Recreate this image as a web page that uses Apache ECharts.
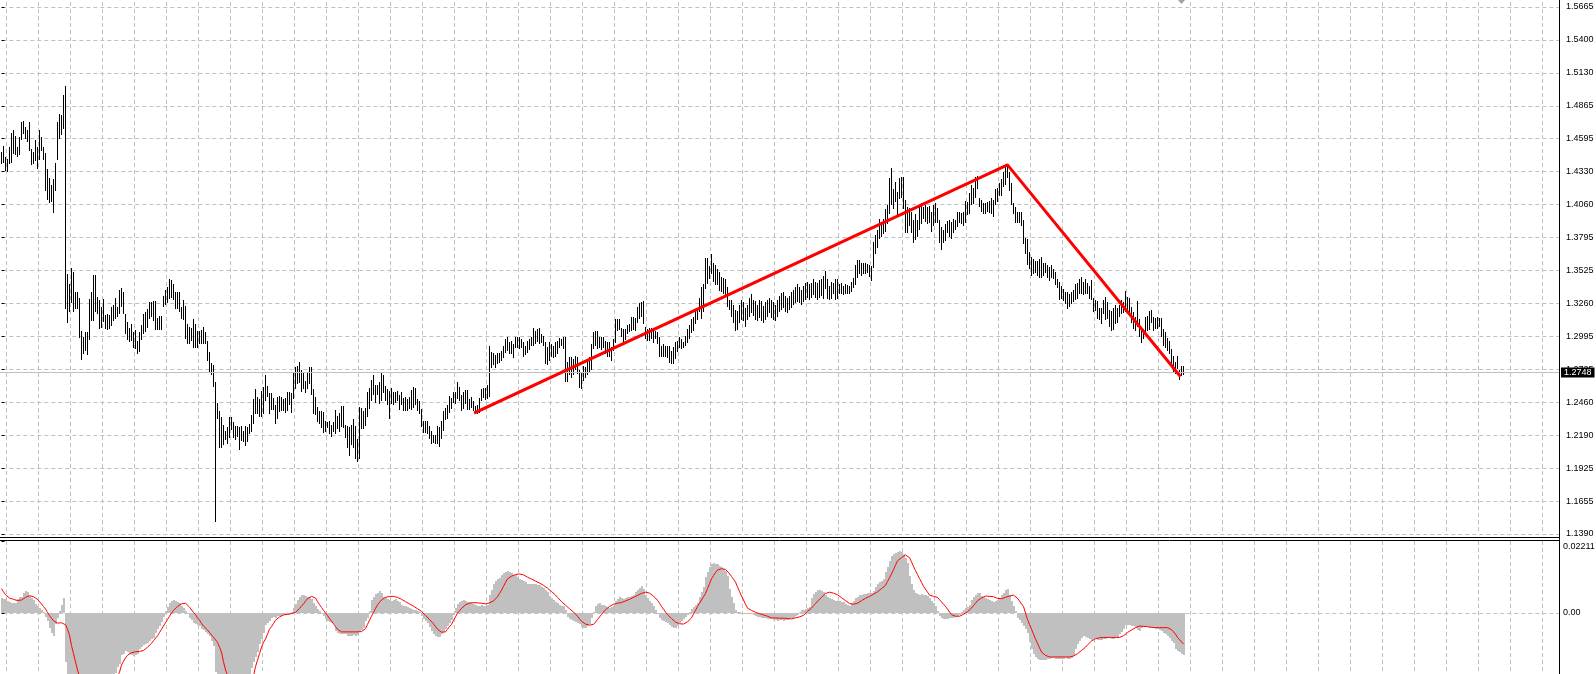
<!DOCTYPE html>
<html>
<head>
<meta charset="utf-8">
<script src="https://cdn.jsdelivr.net/npm/echarts@6/dist/echarts.min.js"></script>
<style>
  html, body { margin: 0; padding: 0; background: #fff; }
  #chart { width: 1596px; height: 674px; }
</style>
</head>
<body>
<div id="chart"></div>
<script>
// bar highs, one per bar (oldest first)
var highs = [
1.4481,1.4537,1.4448,1.4424,1.4529,1.4635,1.4667,1.4618,1.4529,1.4610,
1.4732,1.4740,1.4691,1.4667,1.4732,1.4513,1.4481,1.4586,1.4529,1.4667,
1.4610,1.4529,1.4473,1.4343,1.4270,1.4221,1.4262,1.4392,1.4724,1.4789,
1.4781,1.4951,1.5024,1.3491,1.3410,1.3540,1.3508,1.3353,1.3345,1.3304,
1.3029,1.2980,1.3021,1.3021,1.3296,1.3345,1.3483,1.3483,1.3312,1.3288,
1.3231,1.3296,1.3166,1.3174,1.3166,1.3231,1.3247,1.3304,1.3231,1.3369,
1.3378,1.3345,1.3174,1.3102,1.3053,1.3093,1.3021,1.3037,1.2948,1.3021,
1.3085,1.3174,1.3183,1.3215,1.3264,1.3264,1.3280,1.3280,1.3142,1.3158,
1.3158,1.3320,1.3369,1.3386,1.3451,1.3443,1.3410,1.3345,1.3345,1.3345,
1.3231,1.3288,1.3239,1.3093,1.3069,1.3053,1.3134,1.3093,1.3029,1.3029,
1.3037,1.3069,1.3021,1.2948,1.2859,1.2770,1.2753,1.2623,1.2445,1.2380,
1.2331,1.2274,1.2218,1.2250,1.2331,1.2331,1.2291,1.2258,1.2258,1.2250,
1.2258,1.2218,1.2266,1.2250,1.2282,1.2355,1.2485,1.2566,1.2501,1.2477,
1.2550,1.2582,1.2672,1.2590,1.2526,1.2526,1.2493,1.2436,1.2501,1.2509,
1.2501,1.2477,1.2493,1.2534,1.2534,1.2526,1.2696,1.2737,1.2745,1.2778,
1.2720,1.2704,1.2631,1.2704,1.2737,1.2737,1.2566,1.2501,1.2420,1.2380,
1.2380,1.2372,1.2299,1.2291,1.2299,1.2274,1.2291,1.2388,1.2347,1.2364,
1.2428,1.2428,1.2274,1.2266,1.2250,1.2274,1.2315,1.2258,1.2153,1.2420,
1.2412,1.2380,1.2412,1.2534,1.2574,1.2639,1.2672,1.2598,1.2598,1.2615,
1.2704,1.2672,1.2590,1.2566,1.2542,1.2574,1.2534,1.2534,1.2542,1.2517,
1.2534,1.2493,1.2501,1.2485,1.2501,1.2558,1.2582,1.2574,1.2477,1.2461,
1.2396,1.2299,1.2299,1.2299,1.2258,1.2218,1.2193,1.2193,1.2258,1.2250,
1.2299,1.2380,1.2412,1.2436,1.2509,1.2493,1.2534,1.2534,1.2615,1.2582,
1.2517,1.2534,1.2558,1.2558,1.2485,1.2501,1.2461,1.2428,1.2436,1.2493,
1.2566,1.2574,1.2574,1.2598,1.2907,1.2859,1.2851,1.2834,1.2851,1.2851,
1.2867,1.2915,1.2964,1.2980,1.2940,1.2948,1.2924,1.2988,1.2988,1.2980,
1.2964,1.2940,1.2907,1.2948,1.2964,1.2988,1.3053,1.3029,1.3045,1.3053,
1.3012,1.2996,1.2940,1.2899,1.2940,1.2924,1.2915,1.2940,1.2948,1.2972,
1.2964,1.2980,1.2980,1.2778,1.2818,1.2818,1.2802,1.2826,1.2818,1.2720,
1.2696,1.2745,1.2737,1.2794,1.2818,1.2924,1.3021,1.3029,1.3029,1.2980,
1.2980,1.2988,1.2948,1.2940,1.2940,1.2899,1.2964,1.3126,1.3126,1.3126,
1.3061,1.3045,1.3045,1.3085,1.3093,1.3150,1.3150,1.3142,1.3231,1.3256,
1.3264,1.3272,1.3069,1.3045,1.3053,1.3061,1.3029,1.3029,1.3021,1.2988,
1.2915,1.2924,1.2915,1.2915,1.2907,1.2867,1.2899,1.2940,1.2948,1.2988,
1.2964,1.2940,1.2996,1.3045,1.3085,1.3126,1.3150,1.3191,1.3223,1.3304,
1.3386,1.3410,1.3621,1.3621,1.3556,1.3661,1.3588,1.3572,1.3532,1.3508,
1.3467,1.3459,1.3451,1.3386,1.3288,1.3288,1.3247,1.3207,1.3191,1.3247,
1.3288,1.3264,1.3223,1.3247,1.3304,1.3329,1.3288,1.3272,1.3247,1.3288,
1.3272,1.3239,1.3264,1.3288,1.3304,1.3288,1.3264,1.3247,1.3288,1.3320,
1.3337,1.3353,1.3320,1.3304,1.3320,1.3345,1.3369,1.3386,1.3410,1.3386,
1.3369,1.3394,1.3418,1.3434,1.3410,1.3426,1.3451,1.3434,1.3418,1.3443,
1.3451,1.3475,1.3516,1.3451,1.3394,1.3434,1.3426,1.3451,1.3451,1.3410,
1.3418,1.3394,1.3410,1.3402,1.3394,1.3434,1.3459,1.3564,1.3605,1.3605,
1.3588,1.3588,1.3588,1.3580,1.3572,1.3556,1.3751,1.3815,1.3848,1.3945,
1.3913,1.3945,1.4026,1.4058,1.4270,1.4351,1.4181,1.4245,1.4164,1.4270,
1.4278,1.4278,1.4099,1.4042,1.4034,1.4002,1.3937,1.3978,1.3937,1.4058,
1.4075,1.4042,1.4058,1.4042,1.4050,1.4002,1.4058,1.4075,1.4034,1.3937,
1.3880,1.3856,1.3897,1.3929,1.3937,1.3913,1.3945,1.3937,1.3994,1.3994,
1.3986,1.3994,1.4091,1.4083,1.4156,1.4221,1.4189,1.4278,1.4286,1.4108,
1.4099,1.4075,1.4075,1.4083,1.4091,1.4108,1.4099,1.4181,1.4189,1.4237,
1.4262,1.4319,1.4359,1.4384,1.4319,1.4237,1.4075,1.4042,1.3994,1.4002,
1.3994,1.3937,1.3791,1.3775,1.3670,1.3637,1.3613,1.3597,1.3597,1.3613,
1.3629,1.3588,1.3588,1.3572,1.3548,1.3572,1.3532,1.3508,1.3451,1.3434,
1.3394,1.3377,1.3345,1.3345,1.3329,1.3353,1.3369,1.3410,1.3426,1.3451,
1.3467,1.3434,1.3451,1.3426,1.3394,1.3443,1.3304,1.3288,1.3272,1.3223,
1.3223,1.3288,1.3312,1.3264,1.3207,1.3191,1.3223,1.3247,1.3223,1.3247,
1.3288,1.3264,1.3361,1.3312,1.3304,1.3231,1.3183,1.3150,1.3272,1.3126,
1.3045,1.3045,1.3150,1.3158,1.3191,1.3207,1.3150,1.3142,1.3150,1.3142,
1.3142,1.3045,1.3021,1.2972,1.2948,1.2883,1.2826,1.2778,1.2826,1.2720,
1.2745,1.2750
];

// bar lows, one per bar
var lows = [
1.4400,1.4408,1.4343,1.4335,1.4400,1.4408,1.4481,1.4473,1.4464,1.4473,
1.4602,1.4643,1.4610,1.4586,1.4505,1.4392,1.4400,1.4424,1.4367,1.4432,
1.4505,1.4432,1.4181,1.4108,1.4091,1.4099,1.4010,1.4181,1.4432,1.4610,
1.4635,1.4691,1.3231,1.3110,1.3207,1.3280,1.3207,1.3231,1.3231,1.2996,
1.2810,1.2859,1.2883,1.2851,1.2972,1.3126,1.3134,1.3199,1.3183,1.3069,
1.3077,1.3118,1.3069,1.3053,1.3069,1.3093,1.3126,1.3150,1.3166,1.3183,
1.3247,1.3183,1.3021,1.2972,1.2956,1.2964,1.2907,1.2899,1.2859,1.2875,
1.2972,1.3021,1.3037,1.3077,1.3150,1.3166,1.3126,1.3053,1.3061,1.3053,
1.3061,1.3247,1.3256,1.3280,1.3312,1.3320,1.3304,1.3231,1.3231,1.3207,
1.3150,1.3142,1.2988,1.2940,1.2940,1.2964,1.2907,1.2907,1.2907,1.2940,
1.2940,1.2940,1.2940,1.2802,1.2720,1.2688,1.2598,1.1496,1.2339,1.2096,
1.2096,1.2121,1.2161,1.2129,1.2177,1.2242,1.2177,1.2161,1.2185,1.2080,
1.2153,1.2145,1.2112,1.2145,1.2210,1.2226,1.2291,1.2372,1.2372,1.2355,
1.2355,1.2372,1.2477,1.2517,1.2372,1.2404,1.2404,1.2291,1.2331,1.2388,
1.2396,1.2396,1.2380,1.2396,1.2445,1.2380,1.2501,1.2582,1.2623,1.2631,
1.2558,1.2582,1.2542,1.2582,1.2615,1.2526,1.2372,1.2364,1.2307,1.2291,
1.2266,1.2218,1.2226,1.2258,1.2210,1.2193,1.2226,1.2210,1.2250,1.2226,
1.2274,1.2258,1.2177,1.2096,1.2031,1.2121,1.2096,1.2014,1.1990,1.2014,
1.2250,1.2250,1.2282,1.2355,1.2420,1.2485,1.2526,1.2461,1.2526,1.2453,
1.2477,1.2550,1.2477,1.2445,1.2339,1.2453,1.2445,1.2461,1.2477,1.2412,
1.2445,1.2396,1.2396,1.2396,1.2420,1.2404,1.2428,1.2445,1.2396,1.2372,
1.2274,1.2218,1.2218,1.2210,1.2169,1.2129,1.2137,1.2129,1.2129,1.2104,
1.2169,1.2234,1.2323,1.2331,1.2380,1.2420,1.2461,1.2453,1.2501,1.2477,
1.2396,1.2420,1.2453,1.2412,1.2412,1.2428,1.2396,1.2372,1.2372,1.2380,
1.2477,1.2509,1.2493,1.2501,1.2517,1.2745,1.2770,1.2745,1.2778,1.2786,
1.2802,1.2826,1.2867,1.2883,1.2859,1.2859,1.2826,1.2907,1.2915,1.2899,
1.2907,1.2842,1.2851,1.2867,1.2891,1.2924,1.2924,1.2940,1.2956,1.2940,
1.2948,1.2924,1.2778,1.2770,1.2802,1.2834,1.2826,1.2842,1.2859,1.2907,
1.2924,1.2899,1.2639,1.2639,1.2696,1.2664,1.2688,1.2729,1.2704,1.2590,
1.2582,1.2647,1.2664,1.2696,1.2712,1.2729,1.2899,1.2924,1.2899,1.2907,
1.2891,1.2907,1.2859,1.2842,1.2834,1.2802,1.2883,1.2948,1.3045,1.3061,
1.3004,1.2948,1.2972,1.3021,1.3037,1.3045,1.3061,1.3045,1.3110,1.3150,
1.3166,1.3102,1.2988,1.2964,1.2964,1.2988,1.2948,1.2980,1.2940,1.2842,
1.2834,1.2834,1.2842,1.2826,1.2786,1.2778,1.2778,1.2818,1.2875,1.2907,
1.2899,1.2907,1.2924,1.2948,1.2988,1.3029,1.3045,1.3102,1.3142,1.3207,
1.3150,1.3207,1.3386,1.3434,1.3467,1.3508,1.3443,1.3426,1.3418,1.3377,
1.3369,1.3345,1.3329,1.3247,1.3223,1.3166,1.3110,1.3045,1.3061,1.3110,
1.3142,1.3126,1.3085,1.3142,1.3166,1.3191,1.3174,1.3142,1.3126,1.3158,
1.3126,1.3110,1.3142,1.3166,1.3191,1.3158,1.3142,1.3126,1.3166,1.3207,
1.3223,1.3239,1.3207,1.3191,1.3223,1.3239,1.3256,1.3272,1.3288,1.3272,
1.3256,1.3288,1.3304,1.3320,1.3304,1.3320,1.3337,1.3320,1.3304,1.3320,
1.3329,1.3312,1.3386,1.3312,1.3304,1.3312,1.3345,1.3304,1.3312,1.3345,
1.3353,1.3337,1.3345,1.3345,1.3353,1.3369,1.3394,1.3426,1.3475,1.3508,
1.3491,1.3508,1.3508,1.3516,1.3483,1.3451,1.3556,1.3670,1.3726,1.3799,
1.3815,1.3832,1.3856,1.3913,1.4002,1.4075,1.4042,1.4099,1.3978,1.4116,
1.4124,1.4042,1.3840,1.3840,1.3897,1.3840,1.3759,1.3791,1.3815,1.3872,
1.3913,1.3961,1.3937,1.3913,1.3921,1.3856,1.3897,1.3921,1.3921,1.3759,
1.3710,1.3759,1.3775,1.3840,1.3815,1.3799,1.3840,1.3872,1.3889,1.3921,
1.3913,1.3897,1.3921,1.3986,1.3994,1.4075,1.4083,1.4124,1.4197,1.4058,
1.4018,1.4002,1.4002,1.4018,1.4010,1.4002,1.3970,1.4075,1.4099,1.4140,
1.4148,1.4221,1.4237,1.4286,1.4181,1.4075,1.3994,1.3921,1.3921,1.3921,
1.3897,1.3751,1.3670,1.3588,1.3548,1.3491,1.3508,1.3516,1.3491,1.3475,
1.3475,1.3491,1.3516,1.3475,1.3451,1.3475,1.3467,1.3426,1.3394,1.3304,
1.3312,1.3296,1.3264,1.3231,1.3247,1.3264,1.3288,1.3304,1.3312,1.3345,
1.3345,1.3337,1.3353,1.3345,1.3312,1.3304,1.3207,1.3215,1.3150,1.3142,
1.3102,1.3183,1.3142,1.3150,1.3085,1.3045,1.3061,1.3102,1.3110,1.3166,
1.3183,1.3191,1.3207,1.3191,1.3183,1.3110,1.3069,1.3045,1.3085,1.3004,
1.2948,1.2980,1.3021,1.3045,1.3061,1.3110,1.3045,1.3069,1.3069,1.3085,
1.3004,1.2924,1.2907,1.2883,1.2859,1.2761,1.2720,1.2704,1.2737,1.2655,
1.2680,1.2696
];

// MACD main (histogram), one per bar
var macdMain = [
.0045,.0044,.0042,.0036,.0035,.0032,.0030,.0030,.0042,.0048,
.0050,.0062,.0068,.0064,.0052,.0045,.0040,.0028,.0022,.0016,
.0010,.0004,-.0012,-.0025,-.0045,-.0062,-.0070,-.0035,-.0015,.0005,
.0025,.0045,-.0150,-.0200,-.0250,-.0290,-.0320,-.0340,-.0350,-.0370,
-.0390,-.0400,-.0400,-.0395,-.0370,-.0350,-.0330,-.0310,-.0290,-.0280,
-.0265,-.0250,-.0240,-.0225,-.0215,-.0205,-.0195,-.0185,-.0165,-.0158,
-.0130,-.0125,-.0118,-.0120,-.0125,-.0130,-.0132,-.0128,-.0125,-.0112,
-.0105,-.0098,-.0095,-.0092,-.0085,-.0080,-.0076,-.0060,-.0050,-.0040,
-.0028,-.0012,.0005,.0018,.0030,.0038,.0040,.0038,.0034,.0030,
.0022,.0014,.0005,-.0002,-.0015,-.0022,-.0030,-.0034,-.0038,-.0040,
-.0048,-.0052,-.0058,-.0065,-.0072,-.0085,-.0100,-.0180,-.0220,-.0260,
-.0280,-.0290,-.0295,-.0295,-.0290,-.0280,-.0270,-.0260,-.0250,-.0240,
-.0230,-.0220,-.0210,-.0200,-.0190,-.0170,-.0150,-.0135,-.0120,-.0095,
-.0080,-.0060,-.0038,-.0030,-.0025,-.0015,-.0012,-.0014,-.0010,-.0008,
-.0008,-.0007,-.0006,-.0005,-.0004,.0002,.0015,.0028,.0040,.0050,
.0055,.0055,.0052,.0050,.0048,.0042,.0030,.0022,.0012,.0005,
-.0002,-.0010,-.0018,-.0024,-.0028,-.0032,-.0035,-.0055,-.0060,-.0065,
-.0066,-.0065,-.0066,-.0070,-.0072,-.0070,-.0068,-.0070,-.0068,-.0058,
-.0052,-.0045,-.0025,-.0015,.0005,.0040,.0050,.0058,.0062,.0068,
.0060,.0050,.0045,.0042,.0040,.0038,.0040,.0042,.0038,.0035,
.0025,.0022,.0020,.0018,.0016,.0012,.0010,.0008,.0006,.0003,
-.0010,-.0018,-.0025,-.0030,-.0042,-.0055,-.0065,-.0072,-.0075,-.0074,
-.0064,-.0058,-.0050,-.0040,-.0032,-.0022,-.0005,.0015,.0028,.0033,
.0038,.0040,.0036,.0034,.0033,.0030,.0028,.0025,.0022,.0022,
.0024,.0022,.0022,.0024,.0055,.0072,.0088,.0098,.0104,.0108,
.0118,.0124,.0126,.0128,.0125,.0122,.0118,.0117,.0110,.0104,
.0100,.0097,.0095,.0090,.0088,.0088,.0090,.0088,.0086,.0085,
.0080,.0076,.0070,.0064,.0052,.0045,.0040,.0034,.0030,.0025,
.0022,.0020,.0008,-.0012,-.0018,-.0022,-.0025,-.0027,-.0030,-.0035,
-.0042,-.0046,-.0045,-.0040,-.0035,-.0015,.0002,.0020,.0028,.0030,
.0026,.0024,.0020,.0018,.0016,.0018,.0022,.0038,.0044,.0048,
.0046,.0044,.0045,.0048,.0050,.0052,.0055,.0065,.0072,.0078,
.0082,.0075,.0055,.0045,.0038,.0030,.0022,.0008,0,-.0015,
-.0020,-.0024,-.0028,-.0032,-.0038,-.0042,-.0045,-.0046,-.0040,-.0030,
-.0025,-.0018,-.0012,-.0005,.0002,.0012,.0018,.0025,.0030,.0050,
.0065,.0080,.0110,.0125,.0140,.0150,.0155,.0152,.0150,.0145,
.0140,.0135,.0128,.0115,.0075,.0050,.0030,.0010,.0003,.0002,
0,-.0002,-.0003,-.0003,-.0002,-.0004,-.0005,-.0010,-.0012,-.0013,
-.0014,-.0015,-.0016,-.0018,-.0018,-.0019,-.0020,-.0022,-.0024,-.0022,
-.0023,-.0025,-.0022,-.0020,-.0018,-.0016,-.0014,-.0010,-.0005,.0002,
.0008,.0010,.0012,.0015,.0018,.0045,.0058,.0065,.0070,.0070,
.0068,.0065,.0055,.0050,.0047,.0042,.0040,.0038,.0036,.0036,
.0035,.0034,.0028,.0025,.0022,.0032,.0038,.0045,.0050,.0054,
.0056,.0057,.0058,.0060,.0060,.0062,.0068,.0080,.0088,.0095,
.0098,.0105,.0125,.0140,.0160,.0175,.0180,.0185,.0188,.0190,
.0188,.0180,.0168,.0155,.0115,.0090,.0070,.0062,.0058,.0055,
.0057,.0056,.0054,.0052,.0045,.0038,.0030,.0022,.0005,-.0010,
-.0015,-.0018,-.0018,-.0017,-.0015,-.0015,-.0014,-.0012,-.0010,-.0005,
.0002,.0008,.0014,.0018,.0024,.0040,.0048,.0055,.0062,.0060,
.0052,.0048,.0046,.0044,.0040,.0038,.0035,.0038,.0040,.0045,
.0055,.0062,.0070,.0075,.0055,.0038,.0020,.0005,-.0015,-.0022,
-.0030,-.0040,-.0050,-.0062,-.0090,-.0110,-.0125,-.0135,-.0140,-.0143,
-.0145,-.0145,-.0143,-.0142,-.0140,-.0138,-.0138,-.0140,-.0140,-.0142,
-.0140,-.0140,-.0138,-.0140,-.0142,-.0138,-.0132,-.0110,-.0095,-.0085,
-.0078,-.0072,-.0075,-.0078,-.0080,-.0082,-.0080,-.0080,-.0082,-.0082,
-.0082,-.0080,-.0080,-.0078,-.0078,-.0080,-.0080,-.0078,-.0076,-.0065,
-.0058,-.0050,-.0038,-.0036,-.0038,-.0040,-.0040,-.0045,-.0052,-.0055,
-.0045,-.0042,-.0042,-.0043,-.0045,-.0046,-.0045,-.0048,-.0050,-.0052,
-.0056,-.0062,-.0066,-.0070,-.0078,-.0086,-.0092,-.0112,-.0118,-.0120,
-.0125,-.0128
];

// MACD signal line, one per bar
var macdSignal = [
.0075,.0065,.0056,.0050,.0046,.0044,.0042,.0040,.0038,.0038,
.0040,.0044,.0048,.0052,.0053,.0052,.0050,.0047,.0042,.0036,
.0028,.0020,.0012,.0002,-.0008,-.0016,-.0024,-.0030,-.0031,-.0030,
-.0030,-.0032,-.0036,-.0050,-.0068,-.0100,-.0125,-.0150,-.0175,-.0195,
-.0220,-.0240,-.0260,-.0280,-.0300,-.0315,-.0325,-.0330,-.0330,-.0325,
-.0315,-.0300,-.0285,-.0270,-.0255,-.0240,-.0225,-.0210,-.0195,-.0182,
-.0160,-.0148,-.0138,-.0130,-.0125,-.0122,-.0120,-.0119,-.0118,-.0118,
-.0118,-.0115,-.0110,-.0105,-.0100,-.0093,-.0085,-.0080,-.0070,-.0060,
-.0050,-.0040,-.0030,-.0020,-.0010,0,.0008,.0012,.0020,.0026,
.0028,.0030,.0030,.0025,.0018,.0012,.0002,-.0005,-.0015,-.0022,
-.0032,-.0040,-.0045,-.0052,-.0060,-.0066,-.0075,-.0078,-.0090,-.0105,
-.0120,-.0150,-.0175,-.0190,-.0210,-.0225,-.0240,-.0250,-.0255,-.0258,
-.0258,-.0255,-.0250,-.0240,-.0230,-.0215,-.0195,-.0165,-.0145,-.0125,
-.0105,-.0090,-.0080,-.0065,-.0050,-.0042,-.0032,-.0022,-.0018,-.0012,
-.0008,-.0006,-.0005,-.0004,-.0003,-.0002,0,.0002,.0008,.0014,
.0020,.0028,.0036,.0044,.0048,.0051,.0052,.0046,.0035,.0026,
.0017,.0008,0,-.0008,-.0017,-.0025,-.0033,-.0042,-.0050,-.0055,
-.0058,-.0058,-.0058,-.0058,-.0058,-.0058,-.0058,-.0058,-.0058,-.0058,
-.0057,-.0054,-.0048,-.0035,-.0022,-.0010,.0002,.0014,.0025,.0033,
.0040,.0045,.0048,.0050,.0051,.0052,.0051,.0050,.0048,.0045,
.0042,.0038,.0035,.0031,.0028,.0025,.0021,.0017,.0013,.0009,
.0005,-.0001,-.0008,-.0014,-.0020,-.0025,-.0033,-.0042,-.0050,-.0055,
-.0059,-.0062,-.0058,-.0050,-.0042,-.0035,-.0023,-.0012,0,.0007,
.0014,.0020,.0025,.0028,.0030,.0032,.0032,.0031,.0031,.0030,
.0030,.0029,.0028,.0028,.0031,.0034,.0037,.0040,.0050,.0060,
.0070,.0082,.0094,.0105,.0109,.0113,.0116,.0118,.0119,.0120,
.0120,.0117,.0114,.0110,.0107,.0104,.0101,.0098,.0095,.0092,
.0088,.0085,.0082,.0076,.0071,.0066,.0060,.0055,.0048,.0042,
.0035,.0029,.0024,.0018,.0013,.0008,.0003,-.0002,-.0010,-.0018,
-.0025,-.0030,-.0034,-.0038,-.0037,-.0036,-.0035,-.0028,-.0020,-.0012,
-.0005,.0003,.0010,.0015,.0020,.0025,.0027,.0028,.0030,.0031,
.0032,.0035,.0037,.0040,.0042,.0045,.0048,.0051,.0054,.0057,
.0060,.0062,.0064,.0065,.0061,.0057,.0052,.0048,.0039,.0030,
.0020,.0012,.0003,-.0005,-.0011,-.0017,-.0023,-.0028,-.0031,-.0033,
-.0035,-.0034,-.0033,-.0027,-.0021,-.0015,-.0003,.0008,.0020,.0030,
.0040,.0050,.0060,.0075,.0090,.0105,.0115,.0124,.0132,.0134,
.0136,.0138,.0134,.0130,.0121,.0112,.0104,.0095,.0080,.0066,
.0052,.0040,.0027,.0015,.0011,.0008,.0005,.0002,0,-.0002,
-.0004,-.0006,-.0008,-.0010,-.0013,-.0015,-.0015,-.0015,-.0016,-.0016,
-.0016,-.0016,-.0017,-.0017,-.0018,-.0018,-.0017,-.0015,-.0013,-.0012,
-.0012,-.0007,-.0001,.0005,.0010,.0015,.0022,.0029,.0036,.0042,
.0048,.0054,.0060,.0065,.0064,.0063,.0061,.0060,.0056,.0051,
.0047,.0042,.0038,.0033,.0029,.0025,.0027,.0028,.0030,.0034,
.0038,.0041,.0045,.0048,.0051,.0055,.0058,.0062,.0065,.0070,
.0075,.0080,.0085,.0097,.0108,.0120,.0133,.0147,.0160,.0165,
.0170,.0174,.0178,.0175,.0170,.0157,.0143,.0130,.0118,.0106,
.0094,.0082,.0073,.0064,.0055,.0053,.0051,.0050,.0048,.0041,
.0034,.0027,.0020,.0012,.0003,-.0005,-.0008,-.0010,-.0012,-.0010,
-.0007,-.0004,-.0002,.0004,.0009,.0015,.0023,.0030,.0038,.0042,
.0046,.0049,.0052,.0051,.0051,.0050,.0050,.0047,.0045,.0042,
.0044,.0046,.0048,.0050,.0052,.0053,.0055,.0050,.0045,.0037,
.0028,.0020,0,-.0020,-.0035,-.0050,-.0065,-.0080,-.0093,-.0107,
-.0120,-.0125,-.0130,-.0135,-.0135,-.0135,-.0135,-.0135,-.0135,-.0135,
-.0135,-.0135,-.0135,-.0135,-.0135,-.0135,-.0132,-.0128,-.0125,-.0120,
-.0115,-.0110,-.0105,-.0098,-.0092,-.0086,-.0080,-.0079,-.0077,-.0076,
-.0075,-.0075,-.0075,-.0075,-.0075,-.0075,-.0075,-.0075,-.0075,-.0075,
-.0075,-.0070,-.0065,-.0060,-.0056,-.0052,-.0049,-.0045,-.0042,-.0040,
-.0041,-.0041,-.0042,-.0042,-.0043,-.0044,-.0044,-.0045,-.0045,-.0045,
-.0045,-.0045,-.0045,-.0045,-.0048,-.0051,-.0055,-.0065,-.0075,-.0082,
-.0088,-.0095
];

// hand-drawn trend line anchors: [bar index, price]
var trendPoints = [[237, 1.2376], [503, 1.4384], [589, 1.2677]];
var lastPrice = 1.2748;

// price scale ticks: 1.1390 + k * step (labels rounded to 0.0005)
var priceMin = 1.1390;
var priceStep = 0.02671875;
var macdTop = 0.02211;

var FONT = "'Liberation Sans', Arial, sans-serif";
var FONT_SIZE = 9;
var GRID_COLOR = '#c0c0c0';
var DASH = [4, 3];

var chart = echarts.init(document.getElementById('chart'));

function xAxisFor(idx) {
  return {
    gridIndex: idx, type: 'value',
    min: -13.6, max: 778.75, interval: 16,
    axisLine: { show: false }, axisTick: { show: false }, axisLabel: { show: false },
    splitLine: { show: true, showMinLine: false, showMaxLine: false,
      lineStyle: { color: GRID_COLOR, type: DASH, width: 1 } }
  };
}

var option = {
  animation: false,
  backgroundColor: '#ffffff',
  grid: [
    { left: -25.7, right: 37, top: -25.94, height: 559.94, outerBoundsMode: 'none', containLabel: false },
    { left: -25.7, right: 37, top: 541, height: 216, outerBoundsMode: 'none', containLabel: false }
  ],
  xAxis: [xAxisFor(0), xAxisFor(1)],
  yAxis: [
    {
      gridIndex: 0, type: 'value', position: 'right',
      min: priceMin, max: priceMin + 17 * priceStep, interval: priceStep,
      axisLine: { show: false },
      axisTick: { show: true, length: 3, lineStyle: { color: '#000' } },
      axisLabel: {
        margin: 7, color: '#000', fontFamily: FONT, fontSize: FONT_SIZE,
        formatter: function (v) { return (Math.round(v / 0.0005) * 0.0005).toFixed(4); }
      },
      splitLine: { show: true, showMaxLine: false, lineStyle: { color: GRID_COLOR, type: DASH, width: 1 } }
    },
    {
      gridIndex: 1, type: 'value', position: 'right',
      min: -2 * macdTop, max: macdTop, interval: macdTop,
      axisLine: { show: false },
      axisTick: { show: true, length: 3, lineStyle: { color: '#000' } },
      axisLabel: {
        margin: 4, color: '#000', fontFamily: FONT, fontSize: FONT_SIZE,
        formatter: function (v) {
          if (Math.abs(v) < 1e-9) return '0.00';
          if (Math.abs(v - macdTop) < 1e-9) return '{top|' + macdTop.toFixed(5) + '}';
          return '';
        },
        rich: { top: { padding: [12, 0, 0, 0], color: '#000', fontFamily: FONT, fontSize: FONT_SIZE } }
      },
      splitLine: { show: true, showMinLine: false, showMaxLine: false,
        lineStyle: { color: GRID_COLOR, type: DASH, width: 1 } }
    }
  ],
  series: [
    {
      name: 'bars', type: 'custom', xAxisIndex: 0, yAxisIndex: 0, z: 3,
      data: highs.map(function (h, i) { return [i, h, lows[i]]; }),
      encode: { x: 0, y: [1, 2] },
      renderItem: function (params, api) {
        var top = api.coord([api.value(0), api.value(1)]);
        var bot = api.coord([api.value(0), api.value(2)]);
        var x = Math.floor(top[0]) + 0.5;
        return {
          type: 'line',
          shape: { x1: x, y1: Math.floor(top[1]), x2: x, y2: Math.ceil(bot[1]) + 1 },
          style: { stroke: '#000', lineWidth: 1 }
        };
      },
      markLine: {
        silent: true, symbol: ['none', 'none'], animation: false,
        lineStyle: { color: '#c0c0c0', type: 'solid', width: 1 },
        label: {
          show: true, position: 'end', distance: 2,
          formatter: lastPrice.toFixed(4),
          color: '#fff', backgroundColor: '#000', padding: [1, 3, 0, 3],
          fontFamily: FONT, fontSize: FONT_SIZE
        },
        data: [{ yAxis: lastPrice }]
      }
    },
    {
      name: 'trend', type: 'line', xAxisIndex: 0, yAxisIndex: 0, z: 5,
      data: trendPoints, symbol: 'none', silent: true,
      lineStyle: { color: '#ff0000', width: 3, cap: 'square' }
    },
    {
      name: 'MACD', type: 'custom', xAxisIndex: 1, yAxisIndex: 1, z: 3,
      data: macdMain.map(function (v, i) { return [i, v]; }),
      encode: { x: 0, y: 1 },
      renderItem: function (params, api) {
        var p = api.coord([api.value(0), api.value(1)]);
        var z = api.coord([api.value(0), 0]);
        var x = Math.round(p[0] - 1);
        var y0 = Math.round(Math.min(p[1], z[1]));
        var y1 = Math.round(Math.max(p[1], z[1]));
        return {
          type: 'rect',
          shape: { x: x, y: y0, width: 2, height: Math.max(1, y1 - y0) },
          style: { fill: '#c0c0c0' }
        };
      }
    },
    {
      name: 'Signal', type: 'line', xAxisIndex: 1, yAxisIndex: 1, z: 5,
      data: macdSignal.map(function (v, i) { return [i, v]; }),
      symbol: 'none', silent: true,
      lineStyle: { color: '#ff0000', width: 1 }
    }
  ],
  graphic: [
    { type: 'line', z: 100, shape: { x1: 1559.5, y1: 0, x2: 1559.5, y2: 674 }, style: { stroke: '#000', lineWidth: 1 } },
    { type: 'line', z: 100, shape: { x1: 0, y1: 537.5, x2: 1559.5, y2: 537.5 }, style: { stroke: '#000', lineWidth: 1 } },
    { type: 'line', z: 100, shape: { x1: 0, y1: 540.5, x2: 1559.5, y2: 540.5 }, style: { stroke: '#000', lineWidth: 1 } },
    // chart-shift marker at the top edge
    { type: 'polygon', z: 100, shape: { points: [[1178, 0], [1185, 0], [1181.5, 4]] }, style: { fill: '#a0a0a0' } }
  ]
};

chart.setOption(option);
</script>
</body>
</html>
